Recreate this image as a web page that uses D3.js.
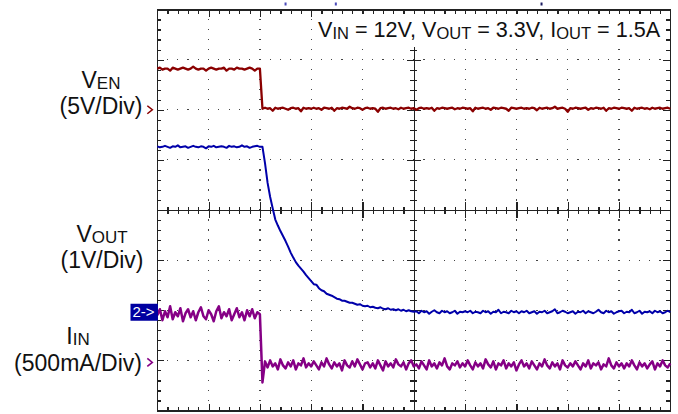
<!DOCTYPE html>
<html>
<head>
<meta charset="utf-8">
<script src="https://cdn.jsdelivr.net/npm/d3@7"></script>
<style>
  html, body { margin: 0; padding: 0; background: #fff; }
  svg { display: block; font-family: "Liberation Sans", Arial, Helvetica, sans-serif; }
</style>
</head>
<body>
<svg id="scope" width="678" height="414"></svg>
<script>
// one sample every 0.05 horizontal division -> 201 samples over 10 divisions
const SAMPLE_DIV = 0.05;

// EN pin, volts (5V/div)
const venVolts = [
  4.1,4.2,4.0,4.1,4.1,3.9,4.2,4.1,4.0,4.1,4.2,4.1,4.0,4.1,4.3,4.1,4.0,4.1,4.1,3.9,
  4.1,4.2,4.1,4.0,4.1,4.1,4.2,3.9,4.1,4.1,4.0,4.2,4.1,4.1,4.0,4.1,4.2,4.1,3.9,4.1,4.1,
  0.1,0.2,0.1,0.15,-0.1,0.2,0.1,0.15,0.2,0.1,0.0,0.15,0.2,0.1,0.15,-0.15,0.2,0.1,0.15,0.1,
  0.2,0.1,0.15,0.0,0.2,0.15,0.1,0.2,-0.1,0.15,0.1,0.2,0.15,0.1,0.3,0.15,0.1,0.2,0.15,0.0,
  0.15,0.2,0.1,0.15,0.1,-0.2,0.15,0.2,0.1,0.15,0.2,0.1,0.15,0.05,0.2,0.1,0.15,0.2,0.1,0.15,
  0.0,0.15,0.2,0.1,0.15,0.1,0.2,-0.1,0.15,0.1,0.2,0.15,0.1,0.15,0.2,0.05,0.15,0.1,0.2,0.15,
  0.1,0.15,-0.15,0.2,0.1,0.15,0.2,0.1,0.15,0.0,0.2,0.15,0.1,0.2,0.15,0.1,-0.1,0.2,0.15,0.1,
  0.15,0.2,0.1,0.15,0.1,0.2,0.15,-0.05,0.2,0.1,0.15,0.2,0.1,0.15,0.3,0.1,0.15,0.2,0.1,-0.2,
  0.15,0.1,0.2,0.15,0.1,0.15,0.2,0.0,0.15,0.1,0.2,0.15,0.1,0.2,-0.1,0.15,0.1,0.2,0.15,0.1,
  0.2,0.15,0.1,0.15,-0.1,0.2,0.1,0.15,0.2,0.1,0.15,0.05,0.2,0.1,0.15,0.2,0.1,0.15,0.2,0.1
];

// output voltage, volts (1V/div)
const voutVolts = [
  3.31,3.29,3.3,3.32,3.3,3.28,3.31,3.3,3.33,3.29,3.3,3.31,3.28,3.3,3.32,3.3,3.29,3.31,3.3,3.27,
  3.31,3.3,3.32,3.29,3.3,3.31,3.3,3.28,3.32,3.3,3.31,3.29,3.3,3.33,3.3,3.31,3.28,3.3,3.31,3.32,3.3,
  3.30,2.97,2.58,2.30,2.07,1.85,1.73,1.62,1.52,1.42,
  1.31,1.19,1.09,1.00,0.93,0.87,0.81,0.74,0.68,0.62,
  0.56,0.55,0.48,0.44,0.42,0.37,0.35,0.33,0.30,0.27,
  0.26,0.23,0.23,0.21,0.19,0.19,0.17,0.15,0.16,0.13,
  0.12,0.13,0.10,0.11,0.09,0.08,0.10,0.07,0.06,0.08,
  0.05,0.06,0.04,0.06,0.03,0.05,0.02,0.04,0.02,0.01,
  0.02,-0.02,0.03,0.0,0.02,-0.03,0.01,0.04,0.0,-0.02,0.03,0.0,0.02,-0.02,0.0,0.03,-0.03,0.01,0.0,0.02,
  0.0,0.03,-0.02,0.01,0.0,-0.02,0.03,0.0,0.02,-0.03,0.01,0.0,0.05,-0.02,0.01,0.0,-0.02,0.03,0.0,0.02,
  -0.02,0.02,0.0,0.03,-0.02,0.0,0.02,-0.03,0.01,0.0,0.03,-0.02,0.0,0.02,0.06,-0.02,0.0,0.03,0.01,-0.02,
  0.0,0.02,-0.03,0.01,0.0,0.03,-0.02,0.02,0.0,-0.02,0.01,0.05,0.0,-0.02,0.03,0.0,0.02,-0.03,0.0,0.02,
  0.03,-0.02,0.01,0.0,0.05,-0.02,0.0,0.03,-0.03,0.01,0.0,0.02,-0.02,0.03,0.0,0.02,-0.02,0.0,0.03,0.0
];

// input current, mA (500mA/div)
const iinMilliAmps = [
  470,530,420,510,450,560,430,500,460,540,410,490,530,450,510,420,500,550,460,430,
  520,480,410,510,560,440,500,460,530,420,480,540,450,500,420,520,460,530,440,500,480,
  -200,
  10,-50,20,-40,-10,-70,30,-30,-60,0,-40,20,-70,-10,-30,40,-50,-10,-40,10,
  -30,-70,0,-40,40,-20,-60,0,-40,-10,-80,20,-30,-50,10,-40,30,-20,-70,-10,
  0,-50,-10,-60,20,-30,-80,10,-40,-10,-50,30,-20,-40,0,-70,-10,20,-40,-20,
  -60,10,-30,-70,20,-40,-10,-60,0,-30,40,-40,-70,-10,-30,10,-50,-10,-40,20,
  -30,-70,0,-40,-10,-60,30,-20,-50,10,-70,-10,-30,20,-60,-10,-40,0,-80,-20,
  20,-40,-10,-60,10,-30,-70,-10,-40,30,-30,-60,0,-40,-10,-70,20,-30,-50,-10,
  -40,10,-30,-70,-10,-40,20,-60,-10,-30,0,-70,-20,-40,40,-30,-60,0,-40,-10,
  -60,-10,-40,20,-30,-70,0,-40,-10,-60,-20,10,-70,-10,-40,20,-30,-50,-10
];

const channels = [
  { key: "en",   values: venVolts,     perDiv: 5,   groundDiv: 2,     color: "#8a0000", width: 2.3 },
  { key: "out",  values: voutVolts,    perDiv: 1,   groundDiv: -2.04, color: "#0000aa", width: 2.0 },
  { key: "iin",  values: iinMilliAmps, perDiv: 500, groundDiv: -3.04, color: "#850085", width: 2.5 }
];

const headline = [["V", "IN", " = 12V, "], ["V", "OUT", " = 3.3V, "], ["I", "OUT", " = 1.5A"]];

const sideLabels = [
  { main: "V", sub: "EN",  scale: "(5V/Div)",    cx: 101, y1: 88,  y2: 114, marker: "#8a0000", markerDiv: 2 },
  { main: "V", sub: "OUT", scale: "(1V/Div)",    cx: 102, y1: 242, y2: 268, marker: null,      markerDiv: null },
  { main: "I", sub: "IN",  scale: "(500mA/Div)", cx: 78,  y1: 344, y2: 371, marker: "#850085", markerDiv: -3.04 }
];

// small trigger/position marks above the graticule (division, colour)
const topMarks = [[2.5, "#4a4ab8"], [3.48, "#4a4ab8"], [7.49, "#1a1a60"]];

const svg = d3.select("#scope");
const x = d3.scaleLinear().domain([0, 10]).range([157.3, 670.3]);
const y = d3.scaleLinear().domain([-4, 4]).range([410.5, 9.5]);

const minorX = d3.range(0, 51).map(i => i / 5);
const minorY = d3.range(-20, 21).map(i => i / 5);
const majorX = d3.range(1, 10).filter(d => d !== 5);
const majorY = d3.range(-3, 4).filter(d => d !== 0);

const grid = svg.append("g").attr("shape-rendering", "crispEdges");

// dotted graticule
majorX.forEach(t => {
  minorY.filter(v => Math.abs(v) < 4).forEach(v =>
    grid.append("rect").attr("x", x(t) - 0.6).attr("y", y(v) - 0.6)
      .attr("width", 1.2).attr("height", 1.2).attr("fill", "#444"));
});
majorY.forEach(v => {
  minorX.filter(t => t > 0 && t < 10).forEach(t =>
    grid.append("rect").attr("x", x(t) - 0.6).attr("y", y(v) - 0.6)
      .attr("width", 1.2).attr("height", 1.2).attr("fill", "#444"));
});

const styleAxis = g => {
  g.selectAll("path.domain").attr("stroke", "#222").attr("stroke-width", 1.3);
  g.selectAll(".tick line").attr("stroke", "#222").attr("stroke-width", 1.2);
  g.selectAll("text").remove();
};
const addAxis = (axis, tx, ty, size, values, domain) => {
  const g = grid.append("g").attr("transform", `translate(${tx},${ty})`)
    .call(axis.tickValues(values).tickSize(size).tickSizeOuter(0).tickFormat(""))
    .call(styleAxis);
  if (!domain) g.select("path.domain").remove();
};

// frame with inward ticks
addAxis(d3.axisBottom(x), 0, y(4), 4, minorX, true);
addAxis(d3.axisTop(x), 0, y(-4), 4, minorX, true);
addAxis(d3.axisRight(y), x(0), 0, 4, minorY, true);
addAxis(d3.axisLeft(y), x(10), 0, 4, minorY, true);
addAxis(d3.axisBottom(x), 0, y(4), 7, majorX, false);
addAxis(d3.axisTop(x), 0, y(-4), 7, majorX, false);
addAxis(d3.axisRight(y), x(0), 0, 7, majorY, false);
addAxis(d3.axisLeft(y), x(10), 0, 7, majorY, false);

// centre cross with ticks on both sides
addAxis(d3.axisTop(x), 0, y(0), 3.5, minorX, true);
addAxis(d3.axisBottom(x), 0, y(0), 3.5, minorX, false);
addAxis(d3.axisTop(x), 0, y(0), 8, majorX, false);
addAxis(d3.axisBottom(x), 0, y(0), 8, majorX, false);
addAxis(d3.axisLeft(y), x(5), 0, 3.5, minorY, true);
addAxis(d3.axisRight(y), x(5), 0, 3.5, minorY, false);
addAxis(d3.axisLeft(y), x(5), 0, 7, majorY, false);
addAxis(d3.axisRight(y), x(5), 0, 7, majorY, false);

// traces
channels.forEach(ch => {
  const line = d3.line()
    .x((d, i) => x(i * SAMPLE_DIV))
    .y(d => y(ch.groundDiv + d / ch.perDiv));
  svg.append("path").datum(ch.values)
    .attr("d", line)
    .attr("fill", "none")
    .attr("stroke", ch.color)
    .attr("stroke-width", ch.width)
    .attr("stroke-linejoin", "round");
});

topMarks.forEach(([t, c]) =>
  svg.append("rect").attr("x", x(t) - 1).attr("y", 2.5).attr("width", 2).attr("height", 3).attr("fill", c));

// condition text on a white box
svg.append("rect").attr("x", 315).attr("y", 14).attr("width", 350).attr("height", 33).attr("fill", "#fff");
const head = svg.append("text").attr("x", 318).attr("y", 37).attr("font-size", 21.6).attr("fill", "#111");
headline.forEach(([m, s, rest]) => {
  head.append("tspan").text(m);
  head.append("tspan").attr("font-size", 16.5).attr("dy", 1.5).text(s);
  head.append("tspan").attr("dy", -1.5).text(rest);
});

// channel labels
sideLabels.forEach(l => {
  const t = svg.append("text").attr("x", l.cx).attr("y", l.y1)
    .attr("text-anchor", "middle").attr("font-size", 23).attr("fill", "#111");
  t.append("tspan").text(l.main);
  t.append("tspan").attr("font-size", 17).attr("dy", 1).text(l.sub);
  svg.append("text").attr("x", l.cx).attr("y", l.y2)
    .attr("text-anchor", "middle").attr("font-size", 23).attr("fill", "#111").text(l.scale);
  if (l.marker) {
    const ym = y(l.markerDiv);
    svg.append("path")
      .attr("d", `M${x(0) - 10},${ym - 4}L${x(0) - 5},${ym}L${x(0) - 10},${ym + 4}`)
      .attr("fill", "none").attr("stroke", l.marker).attr("stroke-width", 1.6);
  }
});

// channel 2 ground marker
const g2 = y(channels[1].groundDiv);
svg.append("rect").attr("x", 130.5).attr("y", g2 - 8.5).attr("width", 27.5).attr("height", 17).attr("fill", "#0000a0");
svg.append("text").attr("x", 143.5).attr("y", g2 + 5).attr("text-anchor", "middle")
  .attr("font-size", 15).attr("fill", "#fff").text("2->");
</script>
</body>
</html>
